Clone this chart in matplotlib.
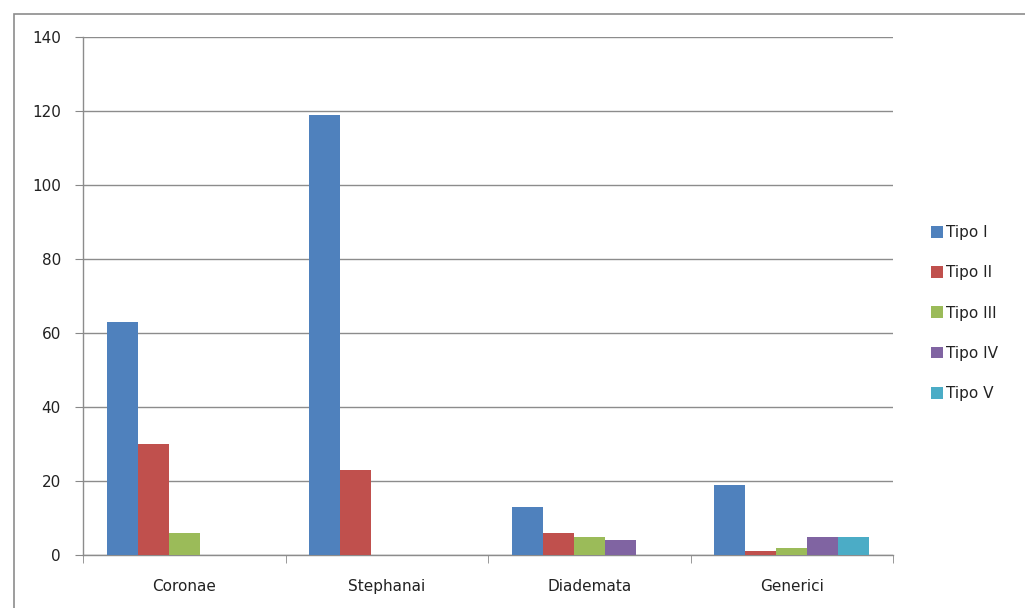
import matplotlib
matplotlib.use("Agg")
import matplotlib.pyplot as plt
import numpy as np
from matplotlib.patches import Rectangle

categories = ["Coronae", "Stephanai", "Diademata", "Generici"]
series_names = ["Tipo I", "Tipo II", "Tipo III", "Tipo IV", "Tipo V"]
tipo_i = [63, 119, 13, 19]
tipo_ii = [30, 23, 6, 1]
tipo_iii = [6, 0, 5, 2]
tipo_iv = [0, 0, 4, 5]
tipo_v = [0, 0, 0, 5]
y_ticks = [0, 20, 40, 60, 80, 100, 120, 140]

colors = ["#4F81BD", "#C0504D", "#9BBB59", "#8064A2", "#4BACC6"]
series = [tipo_i, tipo_ii, tipo_iii, tipo_iv, tipo_v]

plt.rcParams['font.family'] = ['DejaVu Sans']
fig = plt.figure(figsize=(10.25, 6.08), dpi=100)
ax = fig.add_axes([83/1025, 1-555/608, 810/1025, 518/608])

# outer chart border (right and bottom edges fall outside the image)
fig.patches.append(Rectangle((14/1025, -0.05), 1.1, 1.05 - 14/608, transform=fig.transFigure,
                             fill=False, edgecolor="#8c8c8c", linewidth=1.2))

n = len(series)
bw = 0.153
x = np.arange(len(categories))
for i, (vals, c, name) in enumerate(zip(series, colors, series_names)):
    offs = (i - (n - 1) / 2) * bw
    ax.bar(x + offs, vals, width=bw, color=c, label=name, zorder=3)

ax.set_xlim(-0.5, len(categories) - 0.5)
ax.set_ylim(0, 140)
ax.set_yticks(y_ticks)
ax.set_yticklabels([str(v) for v in y_ticks], fontsize=11, color="#222222")
ax.set_xticks(x)
ax.set_xticklabels(categories, fontsize=11, color="#222222")
ax.tick_params(axis='x', length=0, pad=17)
ax.set_xticks(np.arange(-0.5, len(categories)), minor=True)
ax.tick_params(axis='x', which='minor', length=6, color="#888888", direction='out')
ax.tick_params(axis='y', length=6, color="#888888", direction='out', pad=10)

ax.yaxis.grid(True, color="#8c8c8c", linewidth=1.0, zorder=0)
ax.set_axisbelow(True)
for s in ["top", "right"]:
    ax.spines[s].set_visible(False)
for s in ["left", "bottom"]:
    ax.spines[s].set_color("#8c8c8c")
    ax.spines[s].set_linewidth(1.0)

leg = ax.legend(loc="center left", bbox_to_anchor=(1.03, 0.467), frameon=False,
                fontsize=11, handlelength=0.8, handleheight=0.8, handletextpad=0.2,
                labelspacing=1.65)
for t in leg.get_texts():
    t.set_color("#222222")

fig.savefig("out.png", dpi=100, facecolor="white")
